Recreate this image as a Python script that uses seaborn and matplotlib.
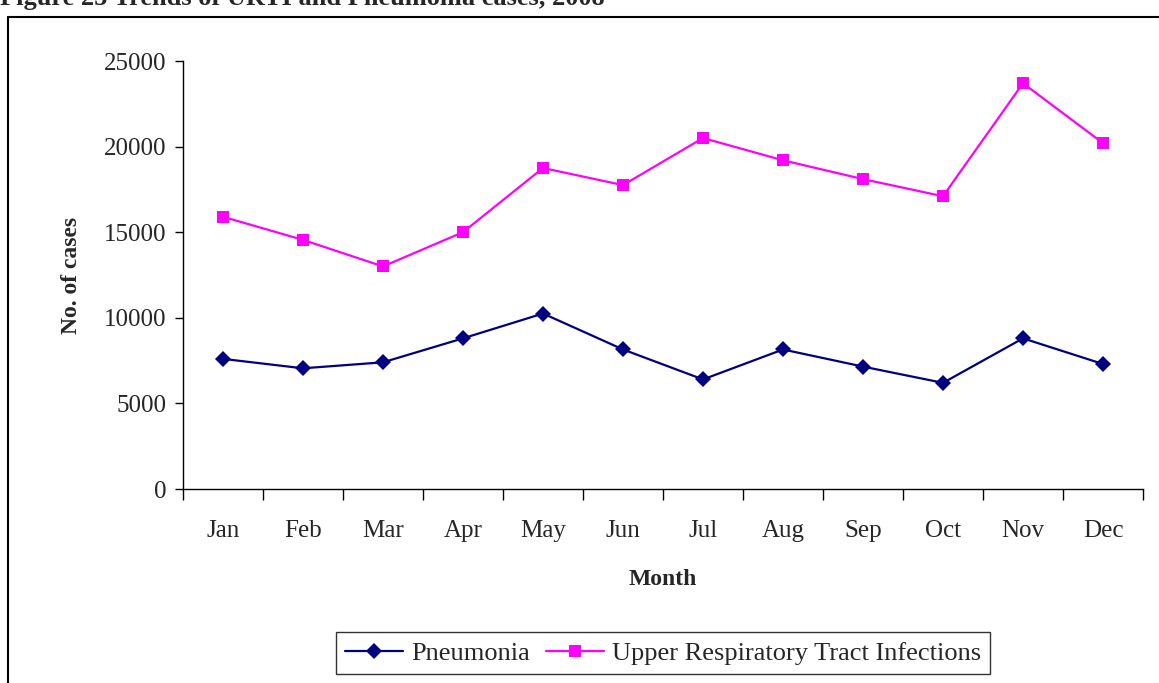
import pandas as pd
import numpy as np
import matplotlib.pyplot as plt
import seaborn as sns
from matplotlib.lines import Line2D

months = ["Jan", "Feb", "Mar", "Apr", "May", "Jun", "Jul", "Aug", "Sep", "Oct", "Nov", "Dec"]
pneumonia = [7600, 7050, 7400, 8800, 10250, 8150, 6400, 8150, 7150, 6200, 8800, 7300]
urti = [15900, 14550, 13000, 15000, 18750, 17750, 20500, 19200, 18100, 17100, 23700, 20200]
series_names = ["Pneumonia", "Upper Respiratory Tract Infections"]
y_ticks = [0, 5000, 10000, 15000, 20000, 25000]

df = pd.DataFrame({
    "Month": months * 2,
    "cases": pneumonia + urti,
    "serie": [series_names[0]] * 12 + [series_names[1]] * 12,
})

sns.set_style("white")
plt.rcParams["font.family"] = ["Liberation Serif", "DejaVu Serif"]

fig = plt.figure(figsize=(11.59, 6.83), dpi=100)
ax = fig.add_axes([183 / 1159, 1 - 489 / 683, (1143 - 183) / 1159, (489 - 61) / 683])

sns.lineplot(data=df, x="Month", y="cases", hue="serie", style="serie",
             palette={series_names[0]: "#000080", series_names[1]: "#FF00FF"},
             markers={series_names[0]: "D", series_names[1]: "s"},
             dashes=False, markersize=8, linewidth=1.6, markeredgewidth=0,
             ax=ax)

ax.set_xlim(-0.5, 11.5)
ax.set_ylim(0, 25000)
ax.set_yticks(y_ticks)
ax.set_yticklabels([str(v) for v in y_ticks])
ax.set_xticks(range(12))
ax.set_xticks(np.arange(-0.5, 12, 1), minor=True)
ax.tick_params(axis="x", which="major", length=0, pad=22, labelsize=18)
ax.tick_params(axis="x", which="minor", length=8, width=1, direction="out", color="black")
ax.tick_params(axis="y", length=6, width=1, direction="out", color="black", labelsize=18, pad=6)
ax.xaxis.set_ticks_position("bottom")
ax.yaxis.set_ticks_position("left")

for s in ["top", "right"]:
    ax.spines[s].set_visible(False)
for s in ["left", "bottom"]:
    ax.spines[s].set_color("black")
    ax.spines[s].set_linewidth(1)

ax.set_xlabel("Month", fontsize=17, fontweight="bold", labelpad=20)
ax.set_ylabel("No. of cases", fontsize=17, fontweight="bold", labelpad=16)

handles, labels = ax.get_legend_handles_labels()
ax.legend(handles, labels, loc="center", bbox_to_anchor=(663 / 1159, 1 - 653 / 683),
          bbox_transform=fig.transFigure, ncol=2, frameon=True, fancybox=False,
          edgecolor="black", fontsize=19, handlelength=2.2, columnspacing=0.6,
          handletextpad=0.3, borderpad=0.35)
ax.get_legend().get_frame().set_linewidth(1)

# bordure du cadre de la figure
fig.add_artist(Line2D([8 / 1159, 8 / 1159], [0, 1 - 17 / 683], color="black", lw=1.5,
                      transform=fig.transFigure))
fig.add_artist(Line2D([8 / 1159, 1], [1 - 17 / 683, 1 - 17 / 683], color="black", lw=1.5,
                      transform=fig.transFigure))

# titre coupe en haut comme dans l'original
fig.text(0, 1 - 5 / 683, "Figure 25 Trends of URTI and Pneumonia cases, 2008",
         fontsize=19, fontweight="bold", va="baseline", ha="left")

fig.savefig("out.png", dpi=100)
